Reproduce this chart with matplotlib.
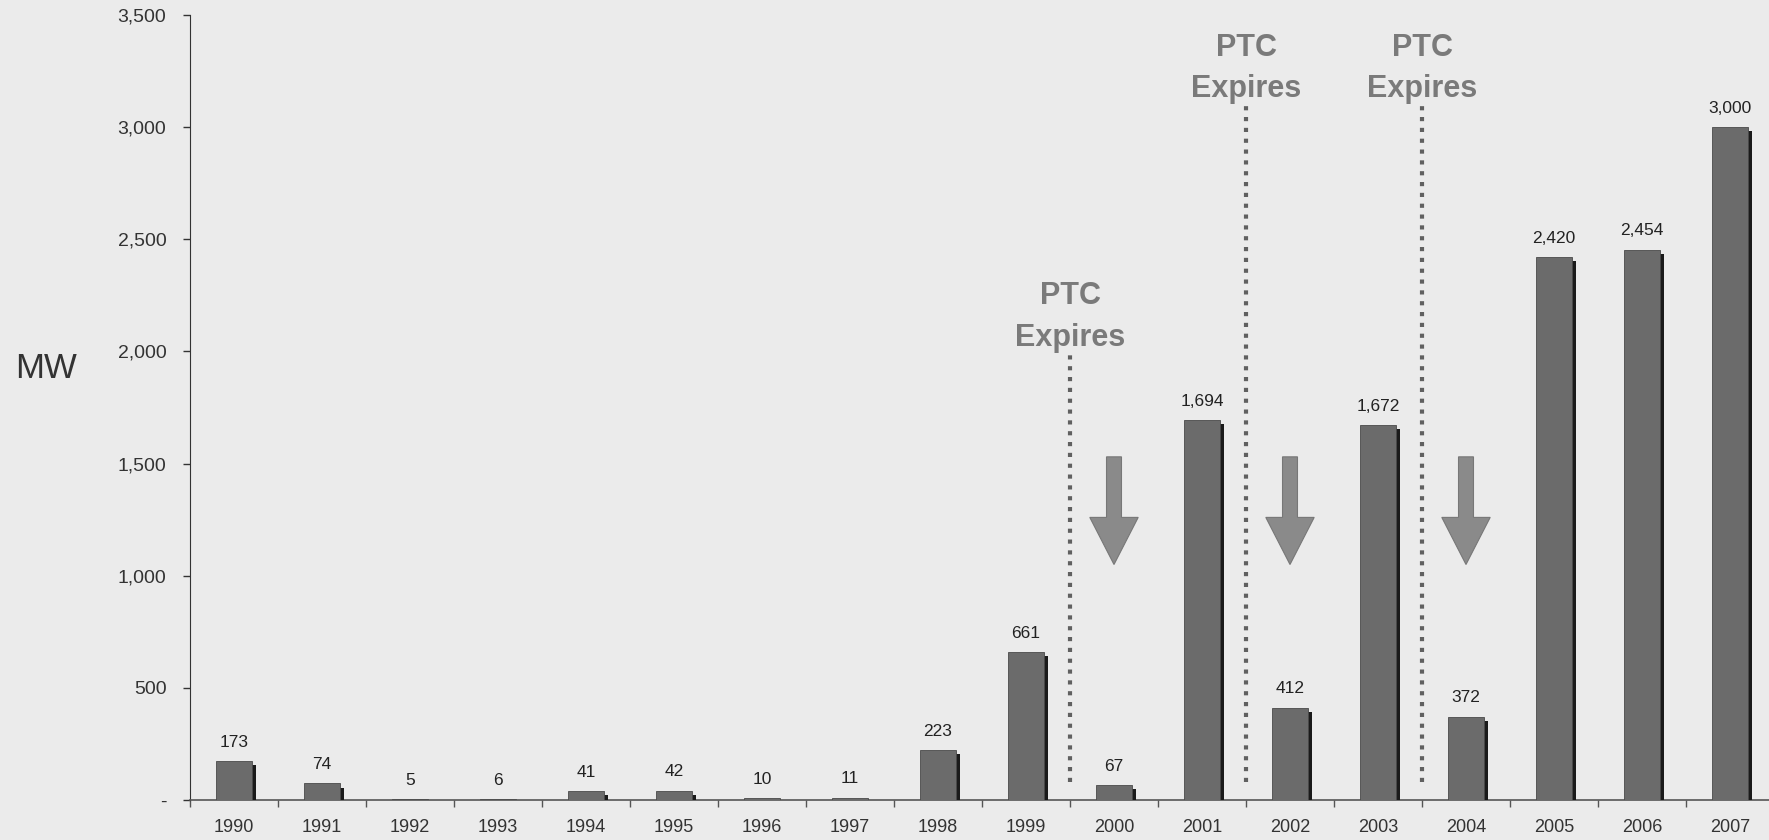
import numpy as np
import matplotlib
matplotlib.use("Agg")
import matplotlib.pyplot as plt
import matplotlib.patheffects as pe
from matplotlib.patches import FancyArrow

plt.rcParams['font.family'] = ['Liberation Sans', 'DejaVu Sans']

# annual wind capacity additions
years = ['1990', '1991', '1992', '1993', '1994', '1995', '1996', '1997', '1998',
         '1999', '2000', '2001', '2002', '2003', '2004', '2005', '2006', '2007']
mw = [173, 74, 5, 6, 41, 42, 10, 11, 223, 661, 67, 1694, 412, 1672, 372,
      2420, 2454, 3000]

# production tax credit lapses (between years) and the dips that followed
ptc_pos = [9.5, 11.5, 13.5]
ptc_top = [2000, 3110, 3110]
ptc_bottom = 80
dip_years = [10, 12, 14]
dip_from = 1530
dip_to = 1050

bg = '#ebebeb'
fig = plt.figure(figsize=(17.69, 8.4), dpi=100, facecolor=bg)
ax = fig.add_axes([190 / 1769, 40 / 840, 1584 / 1769, 785 / 840])
ax.set_facecolor(bg)

x = np.arange(len(years))
bars = ax.bar(x, mw, width=0.41, color='#6b6b6b', edgecolor='#4a4a4a',
              linewidth=0.6, zorder=3)
for b in bars:
    b.set_path_effects([pe.SimplePatchShadow(offset=(3.2, -3), shadow_rgbFace='#1a1a1a',
                                             alpha=1.0), pe.Normal()])

for xi, v in zip(x, mw):
    ax.annotate(f'{v:,}', (xi, v), xytext=(0, 8), textcoords='offset points',
                ha='center', va='bottom', fontsize=12.5, color='#222222')

# PTC expiry markers
for px, top in zip(ptc_pos, ptc_top):
    ax.plot([px, px], [ptc_bottom, top], color='#606060', linewidth=3.0,
            linestyle=(0, (1.0, 1.6)), dash_capstyle='butt', zorder=2)
    ax.text(px, top + 245, 'PTC', ha='center', va='center', fontsize=22,
            fontweight='bold', color='#7a7a7a')
    ax.text(px, top + 60, 'Expires', ha='center', va='center', fontsize=22,
            fontweight='bold', color='#7a7a7a')

for dx in dip_years:
    ax.add_patch(FancyArrow(dx, dip_from, 0, dip_to - dip_from, width=0.17,
                            head_width=0.55, head_length=210,
                            length_includes_head=True, facecolor='#8a8a8a',
                            edgecolor='#777777', linewidth=0.8, zorder=3))

ax.set_xlim(-0.5, len(years) - 0.5)
ax.set_ylim(0, 3500)

ax.set_yticks(np.arange(0, 3501, 500))
ax.set_yticklabels(['-'] + [f'{v:,}' for v in range(500, 3501, 500)])
ax.tick_params(axis='y', direction='out', length=5, width=1, pad=12,
               labelsize=14, colors='#333333')

ax.set_xticks(np.arange(-0.5, len(years), 1))
ax.set_xticklabels([])
ax.set_xticks(x, minor=True)
ax.set_xticklabels(years, minor=True)
ax.tick_params(axis='x', which='major', direction='out', length=5, width=1,
               color='#555555')
ax.tick_params(axis='x', which='minor', length=0, pad=14, labelsize=13,
               labelcolor='#333333')

for s in ['top', 'right']:
    ax.spines[s].set_visible(False)
ax.spines['left'].set_color('#333333')
ax.spines['bottom'].set_color('#555555')
ax.spines['bottom'].set_linewidth(1.2)

fig.text(46 / 1769, 1 - 368 / 840, 'MW', ha='center', va='center', fontsize=25,
         color='#333333')

fig.savefig('out.png', dpi=100, facecolor=bg)
